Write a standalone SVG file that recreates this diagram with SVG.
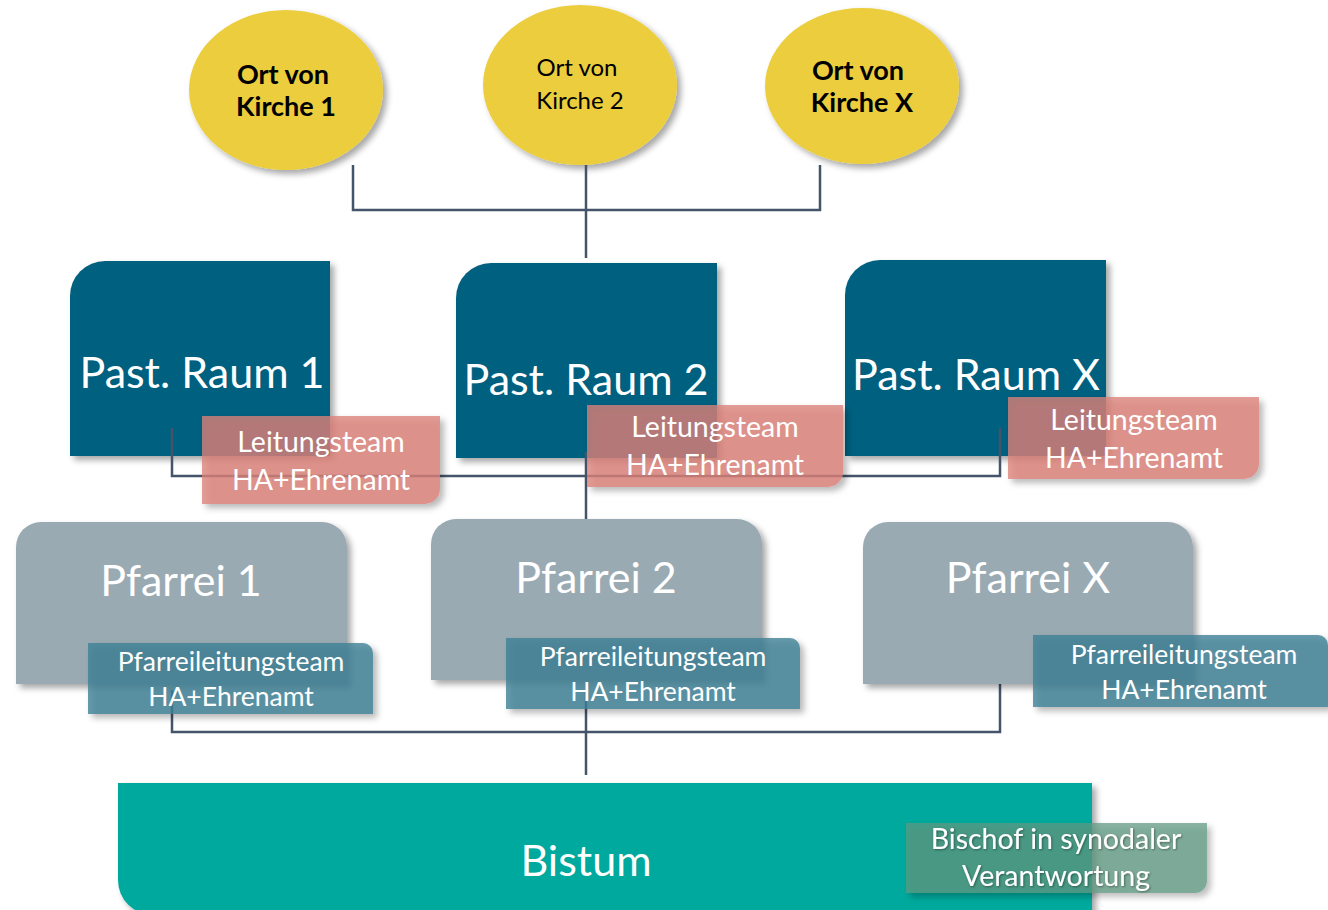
<svg xmlns="http://www.w3.org/2000/svg" width="1328" height="910" viewBox="0 0 1328 910">
<defs>
<filter id="sh" x="-20%" y="-20%" width="140%" height="140%">
<feDropShadow dx="4" dy="4" stdDeviation="3" flood-color="#000" flood-opacity="0.35"/>
</filter>
<filter id="tsh" x="-10%" y="-30%" width="120%" height="160%">
<feDropShadow dx="1" dy="1" stdDeviation="1" flood-color="#000" flood-opacity="0.4"/>
</filter>
</defs>
<style>
.t{font-family:Lato,"Open Sans","Liberation Sans",sans-serif;fill:#fff;text-anchor:middle}
.ell{fill:#ebcd3e;filter:url(#sh)}
.et{font-family:Lato,"Open Sans","Liberation Sans",sans-serif;fill:#000;text-anchor:middle;font-size:24px}
.eb{font-size:27px;font-weight:bold}
.raum{fill:#00617f;filter:url(#sh)}
.lt{fill:#dc8278;fill-opacity:0.78;filter:url(#sh)}
.pf{fill:#9aaab3;filter:url(#sh)}
.plt{fill:#3f8196;fill-opacity:0.8;filter:url(#sh)}
.con{fill:none;stroke:#44546a;stroke-width:2.5}
.big{font-size:43px}
.mid{font-size:28.5px}
.sm{font-size:26.5px}
</style>

<g id="kirche1">
<ellipse class="ell" cx="286" cy="90" rx="97" ry="80"/>
<text class="et eb" x="283" y="84">Ort von</text>
<text class="et eb" x="286" y="116">Kirche 1</text>
</g>
<g id="kirche2">
<ellipse class="ell" cx="580" cy="85" rx="97" ry="80"/>
<text class="et" x="577" y="76">Ort von</text>
<text class="et" x="580" y="109">Kirche 2</text>
</g>
<g id="kircheX">
<ellipse class="ell" cx="862" cy="86" rx="97" ry="78"/>
<text class="et eb" x="858" y="80">Ort von</text>
<text class="et eb" x="862" y="112">Kirche X</text>
</g>

<g id="raum1">
<path class="raum" d="M70,296 A35,35 0 0 1 105,261 L330,261 L330,456 L70,456 Z"/>
<text class="t big" x="202" y="388">Past. Raum 1</text>
</g>
<g id="raum2">
<path class="raum" d="M456,298 A35,35 0 0 1 491,263 L717,263 L717,458 L456,458 Z"/>
<text class="t big" x="586" y="395">Past. Raum 2</text>
</g>
<g id="raumX">
<path class="raum" d="M845,295 A35,35 0 0 1 880,260 L1106,260 L1106,456 L845,456 Z"/>
<text class="t big" x="976" y="390">Past. Raum X</text>
</g>

<g id="connectors">
<path class="con" d="M353,165 V210 H820 V165"/>
<path class="con" d="M586,165 V258"/>
<path class="con" d="M172,428 V476 H1000 V428"/>
<path class="con" d="M586,452 V520" stroke-width="3.5"/>
<path class="con" d="M172,690 V732 H1000 V684"/>
<path class="con" d="M586,690 V775" stroke-width="3.5"/>
</g>

<g id="leitung1">
<path class="lt" d="M202,416 L440,416 L440,489 A15,15 0 0 1 425,504 L202,504 Z"/>
<text class="t mid" x="321" y="452">Leitungsteam</text>
<text class="t mid" x="321" y="490">HA+Ehrenamt</text>
</g>
<g id="leitung2">
<path class="lt" d="M587,405 L843,405 L843,472 A15,15 0 0 1 828,487 L587,487 Z"/>
<text class="t mid" x="715" y="437">Leitungsteam</text>
<text class="t mid" x="715" y="475">HA+Ehrenamt</text>
</g>
<g id="leitungX">
<path class="lt" d="M1008,397 L1259,397 L1259,464 A15,15 0 0 1 1244,479 L1008,479 Z"/>
<text class="t mid" x="1134" y="430">Leitungsteam</text>
<text class="t mid" x="1134" y="468">HA+Ehrenamt</text>
</g>

<g id="pfarrei1">
<path class="pf" d="M16,684 L16,547 A25,25 0 0 1 41,522 L322,522 A25,25 0 0 1 347,547 L347,684 Z"/>
<text class="t big" x="181" y="596">Pfarrei 1</text>
</g>
<g id="pfarrei2">
<path class="pf" d="M431,680 L431,544 A25,25 0 0 1 456,519 L737,519 A25,25 0 0 1 762,544 L762,680 Z"/>
<text class="t big" x="596" y="593">Pfarrei 2</text>
</g>
<g id="pfarreiX">
<path class="pf" d="M863,684 L863,547 A25,25 0 0 1 888,522 L1168,522 A25,25 0 0 1 1193,547 L1193,684 Z"/>
<text class="t big" x="1028" y="593">Pfarrei X</text>
</g>

<g id="pleitung1">
<path class="plt" d="M88,643 L363,643 A10,10 0 0 1 373,653 L373,714 L88,714 Z"/>
<text class="t sm" x="231" y="671">Pfarreileitungsteam</text>
<text class="t sm" x="231" y="706">HA+Ehrenamt</text>
</g>
<g id="pleitung2">
<path class="plt" d="M506,638 L790,638 A10,10 0 0 1 800,648 L800,709 L506,709 Z"/>
<text class="t sm" x="653" y="666">Pfarreileitungsteam</text>
<text class="t sm" x="653" y="701">HA+Ehrenamt</text>
</g>
<g id="pleitungX">
<path class="plt" d="M1033,635 L1318,635 A10,10 0 0 1 1328,645 L1328,707 L1033,707 Z"/>
<text class="t sm" x="1184" y="664">Pfarreileitungsteam</text>
<text class="t sm" x="1184" y="699">HA+Ehrenamt</text>
</g>

<g id="bistum">
<path d="M118,783 L1092,783 L1092,915 L153,915 A35,35 0 0 1 118,880 Z" fill="#00a99d" filter="url(#sh)"/>
<text class="t big" x="586" y="876">Bistum</text>
</g>
<g id="bischof">
<path d="M906,823 L1207,823 L1207,881 A12,12 0 0 1 1195,893 L906,893 Z" fill="#5f9a82" fill-opacity="0.72" filter="url(#sh)"/>
<text class="t mid" x="1056" y="849" filter="url(#tsh)">Bischof in synodaler</text>
<text class="t mid" x="1056" y="886" filter="url(#tsh)">Verantwortung</text>
</g>
</svg>
